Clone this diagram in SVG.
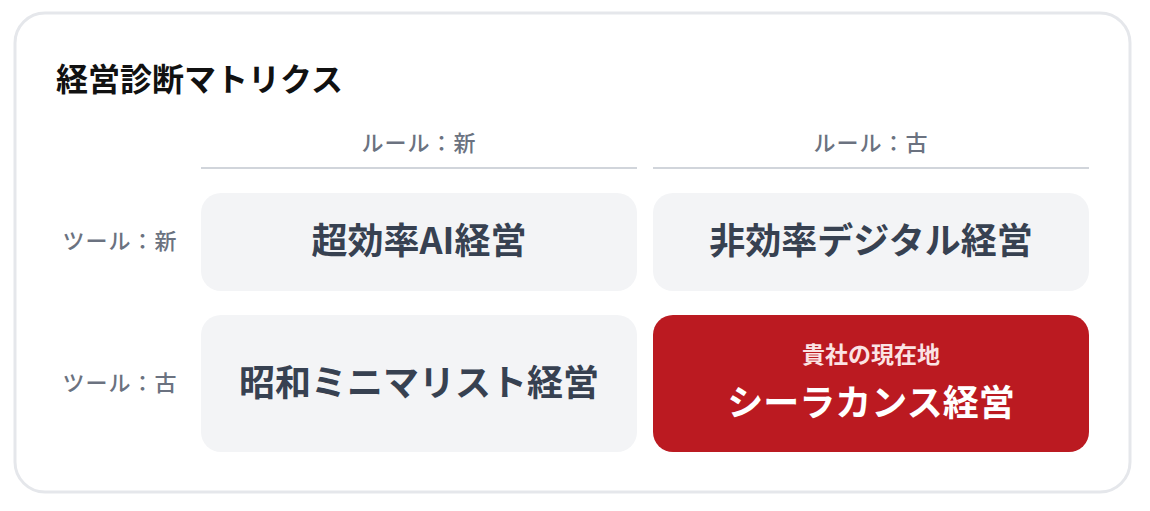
<svg xmlns="http://www.w3.org/2000/svg" width="1150" height="511" viewBox="0 0 1150 511">
<style>
.f{font-family:"Noto Sans CJK JP","Noto Sans",sans-serif}
.title{font-size:32px;font-weight:700;fill:#111111}
.hdr{font-size:22px;font-weight:500;fill:#6b7280;letter-spacing:1px}
.cell{fill:#f3f4f6}
.ct{font-size:36px;font-weight:700;fill:#374151}
.sep{stroke:#d1d5db;stroke-width:2}
</style>
<rect x="0" y="0" width="1150" height="511" fill="#ffffff"/>
<rect x="15" y="13" width="1115" height="479" rx="30" fill="#ffffff" stroke="#e5e7eb" stroke-width="3"/>
<text class="f title" x="56" y="91">経営診断マトリクス</text>
<g id="headers">
<text class="f hdr" x="419" y="151" text-anchor="middle">ルール：新</text>
<text class="f hdr" x="871" y="151" text-anchor="middle">ルール：古</text>
<text class="f hdr" x="120" y="249" text-anchor="middle">ツール：新</text>
<text class="f hdr" x="120" y="391" text-anchor="middle">ツール：古</text>
<line class="sep" x1="201" y1="168" x2="637" y2="168"/>
<line class="sep" x1="653" y1="168" x2="1089" y2="168"/>
</g>
<g id="cell-new-new">
<rect class="cell" x="201" y="193" width="436" height="98" rx="20"/>
<text class="f ct" x="419" y="254" text-anchor="middle">超効率AI経営</text>
</g>
<g id="cell-old-new">
<rect class="cell" x="653" y="193" width="436" height="98" rx="20"/>
<text class="f ct" x="871" y="254" text-anchor="middle">非効率デジタル経営</text>
</g>
<g id="cell-new-old">
<rect class="cell" x="201" y="315" width="436" height="137" rx="20"/>
<text class="f ct" x="419" y="396" text-anchor="middle">昭和ミニマリスト経営</text>
</g>
<g id="cell-old-old">
<rect x="653" y="315" width="436" height="137" rx="20" fill="#bb1a21"/>
<text class="f" x="871" y="363" text-anchor="middle" font-size="23" font-weight="700" fill="#fbe3e4">貴社の現在地</text>
<text class="f" x="871" y="416" text-anchor="middle" font-size="36" font-weight="700" fill="#ffffff">シーラカンス経営</text>
</g>
</svg>
